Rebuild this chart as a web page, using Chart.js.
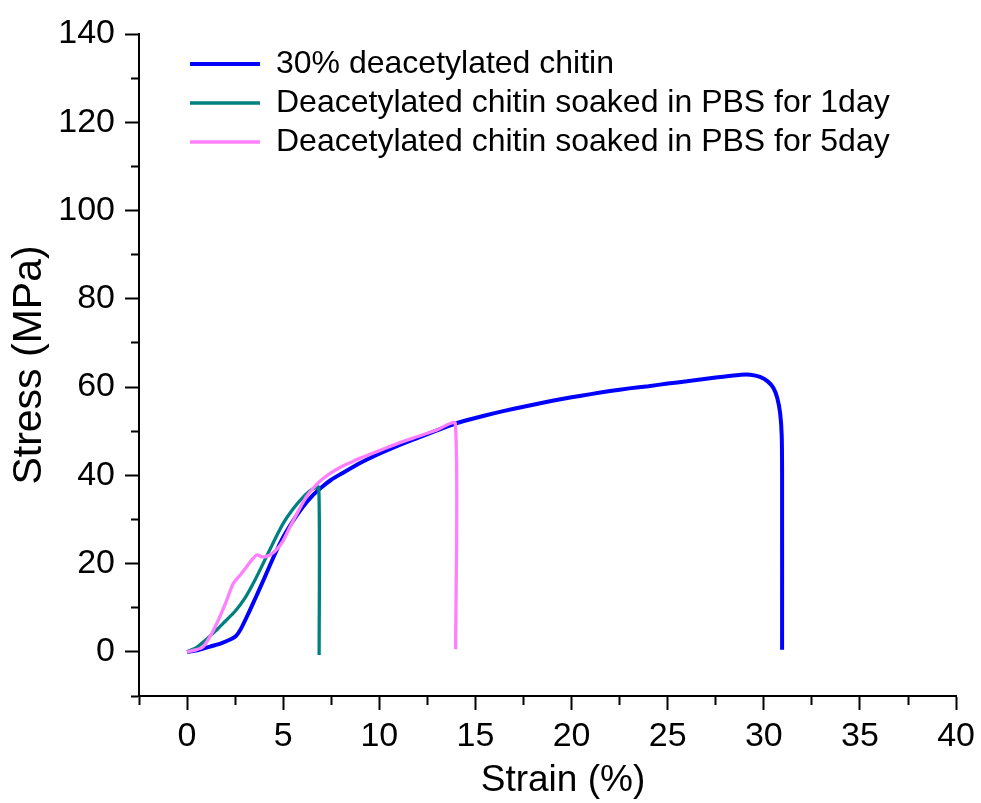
<!DOCTYPE html>
<html>
<head>
<meta charset="utf-8">
<script src="https://cdn.jsdelivr.net/npm/chart.js@4/dist/chart.umd.min.js"></script>
<style>
  body { margin: 0; background: #fff; }
</style>
</head>
<body>
<canvas id="myChart" width="981" height="803"></canvas>
<script>
// strain (%) / stress (MPa)
const labels = [
  '30% deacetylated chitin',
  'Deacetylated chitin soaked in PBS for 1day',
  'Deacetylated chitin soaked in PBS for 5day'
];
const colors = ['#0000ff', '#008080', '#ff80ff'];

const strain30 = [0, 0.6, 1.2, 1.8, 2.3, 2.55, 2.8, 3.2, 3.6, 4.0, 4.5, 5.0, 5.5, 6.0, 6.5, 7.0, 7.5, 8.0, 9.0, 10.0,
  11.0, 12.0, 13.0, 14.0, 15.0, 16.0, 17.0, 18.0, 19.0, 20.0, 21.0, 22.0, 23.0, 24.0, 25.0, 26.0, 27.0, 28.0, 28.8,
  29.3, 29.8, 30.2, 30.5, 30.7, 30.85, 30.93, 30.95, 30.95];
const stress30 = [0, 0.4, 1.2, 2.0, 2.9, 3.6, 5.2, 8.8, 12.6, 16.5, 21.5, 26.0, 29.6, 32.7, 35.3, 37.3, 39.0, 40.3, 42.8, 44.9,
  46.8, 48.5, 50.2, 51.8, 53.0, 54.1, 55.1, 56.0, 56.9, 57.7, 58.4, 59.1, 59.7, 60.2, 60.8, 61.3, 61.9, 62.4, 62.8,
  62.8, 62.3, 61.3, 59.8, 57.5, 54.0, 49.0, 40.0, 0.5];

const strain1d = [0, 0.5, 1.0, 1.5, 2.0, 2.5, 3.0, 3.5, 4.0, 4.5, 5.0, 5.5, 6.0, 6.5, 6.85, 6.87];
const stress1d = [0, 1.0, 2.8, 4.8, 7.0, 9.2, 12.1, 16.0, 20.4, 24.9, 29.1, 32.3, 34.9, 36.8, 37.3, -0.7];

const strain5d = [0, 0.5, 0.85, 1.2, 1.55, 2.0, 2.4, 2.8, 3.1, 3.4, 3.65, 3.85, 4.1, 4.4, 4.7, 5.0, 5.35, 5.8, 6.2, 6.6,
  7.0, 7.5, 8.0, 8.5, 9.0, 10.0, 11.0, 12.0, 13.0, 13.95, 13.97];
const stress5d = [0, 0.5, 1.2, 3.5, 6.5, 11.0, 15.5, 17.6, 19.3, 21.0, 22.0, 21.6, 21.6, 22.2, 23.4, 25.2, 28.3, 32.0, 35.1, 37.3,
  39.0, 40.6, 41.9, 42.9, 43.9, 45.6, 47.3, 48.8, 50.3, 51.8, 0.6];

const xs = [strain30, strain1d, strain5d];
const ys = [stress30, stress1d, stress5d];

const font = 'Liberation Sans, Arial, sans-serif';

// minor ticks: draw only the inner 8px of the 14px tick
const minorDash = (isMinor, fromAxis) => isMinor ? (fromAxis ? [8, 100] : [0, 6, 8, 100]) : [];

const legendShift = {
  id: 'legendShift',
  afterLayout(chart) {
    const lg = chart.legend;
    lg.left += 44; lg.right += 44;
    lg.top += 41; lg.bottom += 41;
  }
};

const ctx = document.getElementById('myChart');

const datasets = labels.map((label, i) => ({
  label: label,
  data: xs[i].map((x, j) => ({ x: x, y: ys[i][j] })),
  borderColor: colors[i],
  backgroundColor: colors[i],
  borderWidth: i === 0 ? 4 : 3.3,
  pointBorderWidth: i === 0 ? 4 : 3.3,
  pointBorderColor: colors[i],
  pointRadius: 0,
  tension: 0.2,
  order: 3 - i
}));

new Chart(ctx, {
  type: 'line',
  data: { datasets: datasets },
  plugins: [legendShift],
  options: {
    responsive: false,
    animation: false,
    layout: { padding: { top: 34, right: 24, left: 0, bottom: 0 } },
    plugins: {
      tooltip: { enabled: false },
      legend: {
        position: 'chartArea',
        align: 'start',
        labels: {
          usePointStyle: true,
          pointStyle: 'line',
          pointStyleWidth: 70,
          padding: 7,
          color: '#000',
          font: { family: font, size: 32 },
          sort: (a, b) => a.datasetIndex - b.datasetIndex
        }
      }
    },
    scales: {
      x: {
        type: 'linear',
        min: -2.5,
        max: 40,
        afterFit: (scale) => { scale.height = 107; },
        border: { display: true, color: '#000', width: 2 },
        grid: {
          drawOnChartArea: false,
          drawTicks: true,
          tickLength: 14,
          tickWidth: 2,
          tickColor: '#000',
          tickBorderDash: (c) => minorDash(c.tick && c.tick.value % 5 !== 0, true)
        },
        ticks: {
          stepSize: 2.5,
          autoSkip: false,
          maxRotation: 0,
          padding: 6,
          color: '#000',
          font: { family: font, size: 34 },
          callback: (v) => v % 5 === 0 ? v : ''
        },
        title: {
          display: true,
          text: '   Strain (%)',
          color: '#000',
          font: { family: font, size: 37 },
          padding: { top: 0, bottom: 0 }
        }
      },
      y: {
        min: -10,
        max: 140,
        afterFit: (scale) => { scale.width = 139; },
        border: { display: true, color: '#000', width: 2 },
        grid: {
          drawOnChartArea: false,
          drawTicks: true,
          tickLength: 14,
          tickWidth: 2,
          tickColor: '#000',
          tickBorderDash: (c) => minorDash(c.tick && c.tick.value % 20 !== 0, false)
        },
        ticks: {
          stepSize: 10,
          autoSkip: false,
          padding: 10,
          color: '#000',
          font: { family: font, size: 34 },
          callback: (v) => v % 20 === 0 ? v : ''
        },
        title: {
          display: true,
          text: 'Stress (MPa)',
          color: '#000',
          font: { family: font, size: 41 },
          padding: { top: 5, bottom: 0 }
        }
      }
    }
  }
});
</script>
</body>
</html>
